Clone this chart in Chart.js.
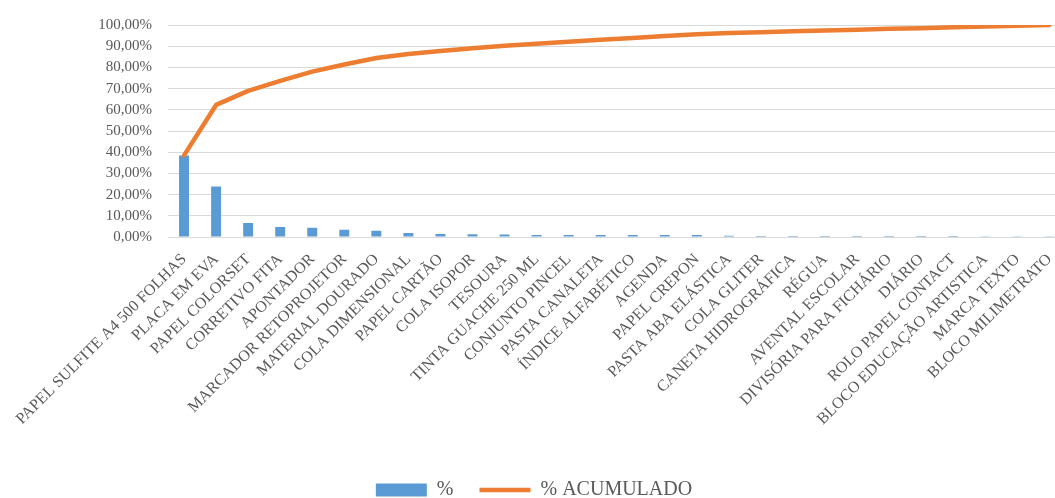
<!DOCTYPE html>
<html>
<head>
<meta charset="utf-8">
<script src="https://cdn.jsdelivr.net/npm/chart.js@4"></script>
<style>
    html, body { margin: 0; padding: 0; background: #fff; overflow: hidden; }
    .wrap { width: 1068px; height: 510px; position: relative; }
</style>
</head>
<body>
<div class="wrap"><canvas id="paretoChart"></canvas></div>
<script>
// itens do material, ordenados pelo percentual
const categories = [
    'PAPEL SULFITE A4 500 FOLHAS', 'PLACA EM EVA', 'PAPEL COLORSET', 'CORRETIVO FITA',
    'APONTADOR', 'MARCADOR RETOPROJETOR', 'MATERIAL DOURADO', 'COLA DIMENSIONAL',
    'PAPEL CARTÃO', 'COLA ISOPOR', 'TESOURA', 'TINTA GUACHE 250 ML', 'CONJUNTO PINCEL',
    'PASTA CANALETA', 'ÍNDICE ALFABÉTICO', 'AGENDA', 'PAPEL CREPON', 'PASTA ABA ELÁSTICA',
    'COLA GLITER', 'CANETA HIDROGRÁFICA', 'RÉGUA', 'AVENTAL ESCOLAR',
    'DIVISÓRIA PARA FICHÁRIO', 'DIÁRIO', 'ROLO PAPEL CONTACT', 'BLOCO EDUCAÇÃO ARTISTICA',
    'MARCA TEXTO', 'BLOCO MILIMETRATO'
];
const percent = [
    38.5, 23.8, 6.6, 4.7, 4.4, 3.4, 3.0, 1.9, 1.4, 1.3, 1.2, 1.0, 0.9, 0.9,
    0.9, 0.9, 0.9, 0.6, 0.5, 0.5, 0.5, 0.5, 0.5, 0.5, 0.5, 0.4, 0.4, 0.4
];
const cumulative = [
    38.5, 62.3, 68.9, 73.6, 78.0, 81.4, 84.4, 86.3, 87.7, 89.0, 90.2, 91.2, 92.1, 93.0,
    93.9, 94.8, 95.6, 96.2, 96.6, 97.0, 97.4, 97.8, 98.2, 98.5, 98.9, 99.3, 99.6, 100
];
const yTicks = [0, 10, 20, 30, 40, 50, 60, 70, 80, 90, 100];

const textColor = '#595959';
const fontFamily = '"Liberation Serif", "DejaVu Serif", serif';

const ctx = document.getElementById('paretoChart').getContext('2d');

new Chart(ctx, {
    data: {
        labels: categories,
        datasets: [
            {
                type: 'bar',
                label: '%',
                data: percent,
                backgroundColor: '#5B9BD5',
                pointStyle: 'rect',
                barPercentage: 0.31,
                categoryPercentage: 1,
                order: 2
            },
            {
                type: 'line',
                label: '% ACUMULADO',
                data: cumulative,
                borderColor: '#ED7D31',
                backgroundColor: '#ED7D31',
                borderWidth: 4.5,
                borderCapStyle: 'round',
                borderJoinStyle: 'round',
                pointStyle: 'line',
                pointRadius: 0,
                tension: 0,
                order: 1
            }
        ]
    },
    options: {
        responsive: true,
        maintainAspectRatio: false,
        animation: false,
        layout: { padding: { top: 23, left: 0, right: 0, bottom: 0 } },
        scales: {
            x: {
                grid: { display: false },
                border: { display: false },
                ticks: {
                    autoSkip: false,
                    maxRotation: 45,
                    minRotation: 45,
                    color: textColor,
                    padding: 5,
                    font: { family: fontFamily, size: 16 }
                },
                afterFit: function (scale) {
                    scale.height = 217;
                }
            },
            y: {
                min: 0,
                max: 100,
                afterBuildTicks: function (scale) {
                    scale.ticks = yTicks.map(v => ({ value: v }));
                },
                grid: { color: '#D9D9D9', lineWidth: 1, drawTicks: false },
                border: { display: false },
                ticks: {
                    color: textColor,
                    padding: 16,
                    font: { family: fontFamily, size: 15 },
                    callback: function (value) {
                        return value.toFixed(2).replace('.', ',') + '%';
                    }
                },
                afterFit: function (scale) {
                    scale.width = 168;
                }
            }
        },
        plugins: {
            tooltip: { enabled: false },
            legend: {
                position: 'bottom',
                labels: {
                    usePointStyle: true,
                    pointStyleWidth: 51,
                    boxHeight: 13,
                    padding: 26,
                    color: textColor,
                    font: { family: fontFamily, size: 20 },
                    sort: function (a, b) {
                        return a.datasetIndex - b.datasetIndex;
                    }
                }
            }
        }
    }
});
</script>
</body>
</html>
